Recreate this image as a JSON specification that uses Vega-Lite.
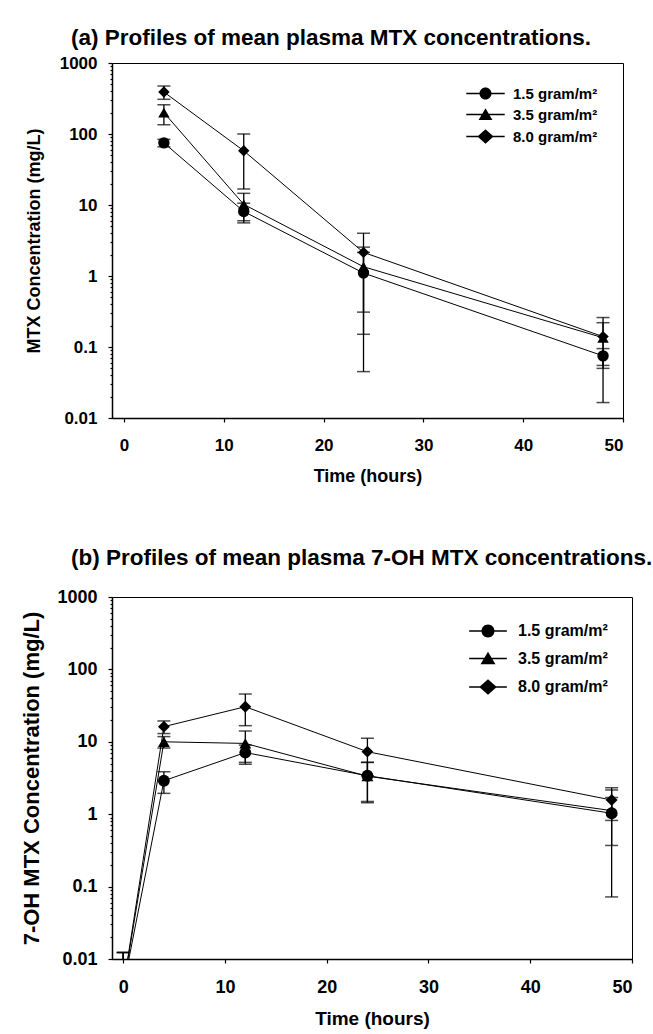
{
  "$schema": "https://vega.github.io/schema/vega-lite/v6.json",
  "padding": {"left": 20, "top": 26, "right": 2, "bottom": 2},
  "config": {
    "font": "Liberation Sans",
    "view": {"stroke": "black", "strokeWidth": 1},
    "axis": {
      "labelFont": "Liberation Sans", "labelFontWeight": "bold", "labelFontSize": 17, "labelColor": "black",
      "titleFont": "Liberation Sans", "titleFontWeight": "bold", "titleFontSize": 18, "titleColor": "black",
      "domainColor": "black", "domainWidth": 1.5, "tickColor": "black", "tickWidth": 1.2, "tickSize": 4, "grid": false
    },
    "title": {"font": "Liberation Sans", "fontSize": 22.5, "fontWeight": "bold", "color": "black", "anchor": "start", "frame": "group"}
  },
  "datasets": {
    "mtx": [
      {"time": 4, "dose": "1.5 gram/m²", "conc": 75, "lo": 66, "hi": 84},
      {"time": 12, "dose": "1.5 gram/m²", "conc": 8.1, "lo": 5.6, "hi": 10.6},
      {"time": 24, "dose": "1.5 gram/m²", "conc": 1.1, "lo": 0.045, "hi": 2.15},
      {"time": 48, "dose": "1.5 gram/m²", "conc": 0.075, "lo": 0.055, "hi": 0.095},
      {"time": 4, "dose": "3.5 gram/m²", "conc": 200, "lo": 135, "hi": 258},
      {"time": 12, "dose": "3.5 gram/m²", "conc": 10.2, "lo": 6.0, "hi": 14.6},
      {"time": 24, "dose": "3.5 gram/m²", "conc": 1.35, "lo": 0.151, "hi": 2.55},
      {"time": 48, "dose": "3.5 gram/m²", "conc": 0.135, "lo": 0.05, "hi": 0.22},
      {"time": 4, "dose": "8.0 gram/m²", "conc": 390, "lo": 308, "hi": 474},
      {"time": 12, "dose": "8.0 gram/m²", "conc": 58, "lo": 16.8, "hi": 100},
      {"time": 24, "dose": "8.0 gram/m²", "conc": 2.15, "lo": 0.31, "hi": 4.0},
      {"time": 48, "dose": "8.0 gram/m²", "conc": 0.14, "lo": 0.0165, "hi": 0.26}
    ],
    "oh": [
      {"time": 0, "dose": "1.5 gram/m²", "conc": 0.004, "lo": 0.001, "hi": 0.0123},
      {"time": 4, "dose": "1.5 gram/m²", "conc": 2.9, "lo": 1.94, "hi": 3.86},
      {"time": 12, "dose": "1.5 gram/m²", "conc": 7.1, "lo": 5.2, "hi": 9.0},
      {"time": 24, "dose": "1.5 gram/m²", "conc": 3.4, "lo": 1.44, "hi": 5.2},
      {"time": 48, "dose": "1.5 gram/m²", "conc": 1.03, "lo": 0.37, "hi": 1.7},
      {"time": 0, "dose": "3.5 gram/m²", "conc": 0.004, "lo": 0.001, "hi": 0.0123},
      {"time": 4, "dose": "3.5 gram/m²", "conc": 10.0, "lo": 8.2, "hi": 11.8},
      {"time": 12, "dose": "3.5 gram/m²", "conc": 9.5, "lo": 4.9, "hi": 14.1},
      {"time": 24, "dose": "3.5 gram/m²", "conc": 3.35, "lo": 1.5, "hi": 5.2},
      {"time": 48, "dose": "3.5 gram/m²", "conc": 1.12, "lo": 0.072, "hi": 2.16},
      {"time": 0, "dose": "8.0 gram/m²", "conc": 0.004, "lo": 0.001, "hi": 0.0123},
      {"time": 4, "dose": "8.0 gram/m²", "conc": 16.2, "lo": 13.0, "hi": 19.4},
      {"time": 12, "dose": "8.0 gram/m²", "conc": 30.5, "lo": 16.7, "hi": 45.7},
      {"time": 24, "dose": "8.0 gram/m²", "conc": 7.3, "lo": 3.4, "hi": 11.2},
      {"time": 48, "dose": "8.0 gram/m²", "conc": 1.57, "lo": 0.82, "hi": 2.32}
    ]
  },
  "spacing": 60,
  "resolve": {"scale": {"shape": "independent"}, "legend": {"shape": "independent"}},
  "vconcat": [
    {
      "width": 511, "height": 355,
      "title": {"text": "(a)  Profiles of mean plasma MTX concentrations.", "dx": -41, "offset": 4.5},
      "data": {"name": "mtx"},
      "encoding": {
        "x": {"field": "time", "type": "quantitative",
          "scale": {"domain": [-1.2, 50], "nice": false, "zero": false},
          "axis": {"values": [0, 10, 20, 30, 40, 50], "title": "Time (hours)", "labelPadding": 15, "titlePadding": 14}}
      },
      "layer": [
        {
          "mark": {"type": "rule", "clip": true, "strokeWidth": 1.3, "color": "black"},
          "encoding": {
            "y": {"field": "lo", "type": "quantitative", "title": "MTX Concentration (mg/L)",
              "scale": {"type": "log", "domain": [0.01, 1000], "nice": false},
              "axis": {"format": "~g", "labelOverlap": false, "labelPadding": 11, "titlePadding": 16,
                "values": [0.01, 0.02, 0.03, 0.04, 0.05, 0.06, 0.07, 0.08, 0.09, 0.1, 0.2, 0.3, 0.4, 0.5, 0.6, 0.7, 0.8, 0.9, 1, 2, 3, 4, 5, 6, 7, 8, 9, 10, 20, 30, 40, 50, 60, 70, 80, 90, 100, 200, 300, 400, 500, 600, 700, 800, 900, 1000],
                "labelExpr": "indexof([0.01, 0.1, 1, 10, 100, 1000], datum.value) >= 0 ? datum.label : ''",
                "tickSize": {"condition": {"test": "indexof([0.01, 0.1, 1, 10, 100, 1000], datum.value) >= 0", "value": 4}, "value": 2}}},
            "y2": {"field": "hi"}
          }
        },
        {
          "mark": {"type": "tick", "orient": "horizontal", "clip": true, "size": 13, "thickness": 1.5, "color": "black"},
          "encoding": {"y": {"field": "lo", "type": "quantitative", "title": "MTX Concentration (mg/L)"}}
        },
        {
          "mark": {"type": "tick", "orient": "horizontal", "clip": true, "size": 13, "thickness": 1.5, "color": "black"},
          "encoding": {"y": {"field": "hi", "type": "quantitative", "title": "MTX Concentration (mg/L)"}}
        },
        {
          "mark": {"type": "line", "clip": true, "color": "black", "strokeWidth": 1},
          "encoding": {"y": {"field": "conc", "type": "quantitative", "title": "MTX Concentration (mg/L)"}, "detail": {"field": "dose", "type": "nominal"}}
        },
        {
          "transform": [{"filter": "datum.dose === '1.5 gram/m²'"}],
          "mark": {"type": "point", "shape": "circle", "filled": true, "opacity": 1, "clip": true, "color": "black", "size": 130},
          "encoding": {"y": {"field": "conc", "type": "quantitative", "title": "MTX Concentration (mg/L)"}}
        },
        {
          "transform": [{"filter": "datum.dose === '3.5 gram/m²'"}],
          "mark": {"type": "point", "shape": "triangle-up", "filled": true, "opacity": 1, "clip": true, "color": "black", "size": 130},
          "encoding": {"y": {"field": "conc", "type": "quantitative", "title": "MTX Concentration (mg/L)"}}
        },
        {
          "transform": [{"filter": "datum.dose === '8.0 gram/m²'"}],
          "mark": {"type": "point", "shape": "diamond", "filled": true, "opacity": 1, "clip": true, "color": "black", "size": 130},
          "encoding": {"y": {"field": "conc", "type": "quantitative", "title": "MTX Concentration (mg/L)"}}
        },
        {
          "transform": [{"filter": "false"}],
          "mark": {"type": "point", "filled": true, "color": "black"},
          "encoding": {
            "y": {"field": "conc", "type": "quantitative", "title": "MTX Concentration (mg/L)"},
            "shape": {"field": "dose", "type": "nominal",
              "scale": {"domain": ["1.5 gram/m²", "3.5 gram/m²", "8.0 gram/m²"],
                "range": [
                  "M-3.2,-0.12L3.2,-0.12L3.2,0.12L-3.2,0.12Z M-1,0A1,1,0,1,1,1,0A1,1,0,1,1,-1,0Z",
                  "M-3.2,-0.12L3.2,-0.12L3.2,0.12L-3.2,0.12Z M0,-1.05L1.15,0.9L-1.15,0.9Z",
                  "M-3.2,-0.12L3.2,-0.12L3.2,0.12L-3.2,0.12Z M0,-1.2L1.35,0L0,1.2L-1.35,0Z"]},
              "legend": {"orient": "none", "legendX": 366, "legendY": 23, "title": null, "padding": 0,
                "labelFont": "Liberation Sans", "labelFontWeight": "bold", "labelFontSize": 15, "labelColor": "black",
                "symbolSize": 144, "labelOffset": 20, "rowPadding": 5,
                "symbolFillColor": "black", "symbolStrokeColor": "black", "symbolStrokeWidth": 0.5, "symbolOpacity": 1,
                "encode": {"symbols": {"fill": {"value": "black"}, "stroke": {"value": "black"}, "strokeWidth": {"value": 0.5}, "opacity": {"value": 1}}}}
            }
          }
        }
      ]
    },
    {
      "width": 520, "height": 362,
      "title": {"text": "(b)  Profiles of mean plasma 7-OH MTX concentrations.", "dx": -41, "offset": 19},
      "data": {"name": "oh"},
      "encoding": {
        "x": {"field": "time", "type": "quantitative",
          "scale": {"domain": [-1.1, 50], "nice": false, "zero": false},
          "axis": {"values": [0, 10, 20, 30, 40, 50], "title": "Time (hours)", "labelPadding": 15, "titlePadding": 13, "titleFontSize": 19, "labelFontSize": 18}}
      },
      "layer": [
        {
          "mark": {"type": "rule", "clip": true, "strokeWidth": 1.3, "color": "black"},
          "encoding": {
            "y": {"field": "lo", "type": "quantitative", "title": "7-OH MTX Concentration (mg/L)",
              "scale": {"type": "log", "domain": [0.01, 1000], "nice": false},
              "axis": {"format": "~g", "labelOverlap": false, "labelPadding": 11, "titlePadding": 13, "titleFontSize": 22, "labelFontSize": 18,
                "values": [0.01, 0.02, 0.03, 0.04, 0.05, 0.06, 0.07, 0.08, 0.09, 0.1, 0.2, 0.3, 0.4, 0.5, 0.6, 0.7, 0.8, 0.9, 1, 2, 3, 4, 5, 6, 7, 8, 9, 10, 20, 30, 40, 50, 60, 70, 80, 90, 100, 200, 300, 400, 500, 600, 700, 800, 900, 1000],
                "labelExpr": "indexof([0.01, 0.1, 1, 10, 100, 1000], datum.value) >= 0 ? datum.label : ''",
                "tickSize": {"condition": {"test": "indexof([0.01, 0.1, 1, 10, 100, 1000], datum.value) >= 0", "value": 4}, "value": 2}}},
            "y2": {"field": "hi"}
          }
        },
        {
          "mark": {"type": "tick", "orient": "horizontal", "clip": true, "size": 13, "thickness": 1.5, "color": "black"},
          "encoding": {"y": {"field": "lo", "type": "quantitative", "title": "7-OH MTX Concentration (mg/L)"}}
        },
        {
          "mark": {"type": "tick", "orient": "horizontal", "clip": true, "size": 13, "thickness": 1.5, "color": "black"},
          "encoding": {"y": {"field": "hi", "type": "quantitative", "title": "7-OH MTX Concentration (mg/L)"}}
        },
        {
          "mark": {"type": "line", "clip": true, "color": "black", "strokeWidth": 1},
          "encoding": {"y": {"field": "conc", "type": "quantitative", "title": "7-OH MTX Concentration (mg/L)"}, "detail": {"field": "dose", "type": "nominal"}}
        },
        {
          "transform": [{"filter": "datum.dose === '1.5 gram/m²'"}],
          "mark": {"type": "point", "shape": "circle", "filled": true, "opacity": 1, "clip": true, "color": "black", "size": 140},
          "encoding": {"y": {"field": "conc", "type": "quantitative", "title": "7-OH MTX Concentration (mg/L)"}}
        },
        {
          "transform": [{"filter": "datum.dose === '3.5 gram/m²'"}],
          "mark": {"type": "point", "shape": "triangle-up", "filled": true, "opacity": 1, "clip": true, "color": "black", "size": 140},
          "encoding": {"y": {"field": "conc", "type": "quantitative", "title": "7-OH MTX Concentration (mg/L)"}}
        },
        {
          "transform": [{"filter": "datum.dose === '8.0 gram/m²'"}],
          "mark": {"type": "point", "shape": "diamond", "filled": true, "opacity": 1, "clip": true, "color": "black", "size": 140},
          "encoding": {"y": {"field": "conc", "type": "quantitative", "title": "7-OH MTX Concentration (mg/L)"}}
        },
        {
          "transform": [{"filter": "false"}],
          "mark": {"type": "point", "filled": true, "color": "black"},
          "encoding": {
            "y": {"field": "conc", "type": "quantitative", "title": "7-OH MTX Concentration (mg/L)"},
            "shape": {"field": "dose", "type": "nominal",
              "scale": {"domain": ["1.5 gram/m²", "3.5 gram/m²", "8.0 gram/m²"],
                "range": [
                  "M-2.9,-0.11L2.9,-0.11L2.9,0.11L-2.9,0.11Z M-1,0A1,1,0,1,1,1,0A1,1,0,1,1,-1,0Z",
                  "M-2.9,-0.11L2.9,-0.11L2.9,0.11L-2.9,0.11Z M0,-1.05L1.15,0.9L-1.15,0.9Z",
                  "M-2.9,-0.11L2.9,-0.11L2.9,0.11L-2.9,0.11Z M0,-1.2L1.35,0L0,1.2L-1.35,0Z"]},
              "legend": {"orient": "none", "legendX": 368, "legendY": 26, "title": null, "padding": 0,
                "labelFont": "Liberation Sans", "labelFontWeight": "bold", "labelFontSize": 16, "labelColor": "black",
                "symbolSize": 169, "labelOffset": 22, "rowPadding": 11.5,
                "symbolFillColor": "black", "symbolStrokeColor": "black", "symbolStrokeWidth": 0.5, "symbolOpacity": 1,
                "encode": {"symbols": {"fill": {"value": "black"}, "stroke": {"value": "black"}, "strokeWidth": {"value": 0.5}, "opacity": {"value": 1}}}}
            }
          }
        }
      ]
    }
  ]
}
